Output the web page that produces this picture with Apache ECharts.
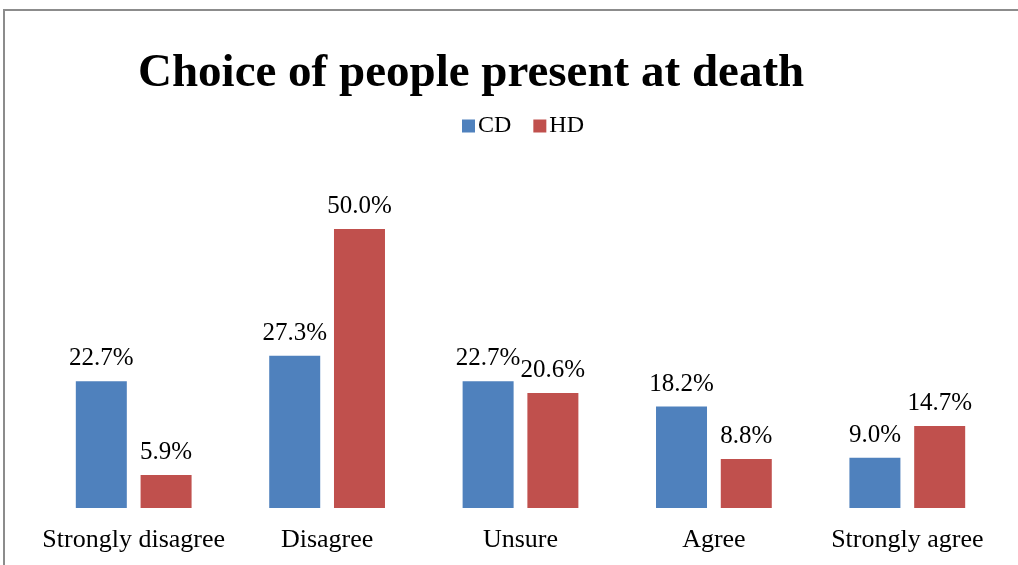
<!DOCTYPE html>
<html>
<head>
<meta charset="utf-8">
<script src="https://cdn.jsdelivr.net/npm/echarts@6/dist/echarts.min.js"></script>
<style>
  html, body { margin: 0; padding: 0; background: #fff; }
  #chart { width: 1018px; height: 565px; }
</style>
</head>
<body>
<div id="chart"></div>
<script>
const categories = ["Strongly disagree", "Disagree", "Unsure", "Agree", "Strongly agree"];
const cdValues = [22.7, 27.3, 22.7, 18.2, 9.0];
const hdValues = [5.9, 50.0, 20.6, 8.8, 14.7];
const seriesNames = ["CD", "HD"];

const serif = "'Liberation Serif', 'Times New Roman', serif";

const chart = echarts.init(document.getElementById("chart"));

const barLabel = {
  show: true,
  position: "top",
  distance: 10,
  formatter: (p) => p.value.toFixed(1) + "%",
  fontFamily: serif,
  fontSize: 25,
  color: "#000",
};

const option = {
  animation: false,
  backgroundColor: "#fff",
  title: {
    text: "Choice of people present at death",
    left: 138,
    top: 50,
    padding: 0,
    textStyle: {
      fontFamily: serif,
      fontWeight: "bold",
      fontSize: 47,
      color: "#000",
    },
  },
  legend: {
    data: seriesNames,
    left: 462,
    top: 114,
    padding: 0,
    icon: "rect",
    itemWidth: 13,
    itemHeight: 13,
    itemGap: 22,
    textStyle: { fontFamily: serif, fontSize: 24, color: "#000", padding: [0, 0, 0, -2] },
  },
  graphic: [
    {
      type: "rect",
      shape: { x: 4, y: 10, width: 1100, height: 700 },
      style: { fill: "none", stroke: "#8c8c8c", lineWidth: 2 },
      silent: true,
    },
  ],
  grid: { left: 37, right: 14, top: 229, bottom: 57 },
  xAxis: {
    type: "category",
    data: categories,
    axisLine: { show: false },
    axisTick: { show: false },
    axisLabel: {
      margin: 19,
      fontFamily: serif,
      fontSize: 26,
      color: "#000",
      interval: 0,
    },
  },
  yAxis: {
    type: "value",
    min: 0,
    max: 50,
    show: false,
    splitLine: { show: false },
  },
  series: [
    {
      name: seriesNames[0],
      type: "bar",
      data: cdValues,
      barWidth: 51,
      barGap: "27%",
      itemStyle: { color: "#4F81BD" },
      label: barLabel,
    },
    {
      name: seriesNames[1],
      type: "bar",
      data: hdValues,
      barWidth: 51,
      itemStyle: { color: "#C0504D" },
      label: barLabel,
    },
  ],
};

chart.setOption(option);
</script>
</body>
</html>
